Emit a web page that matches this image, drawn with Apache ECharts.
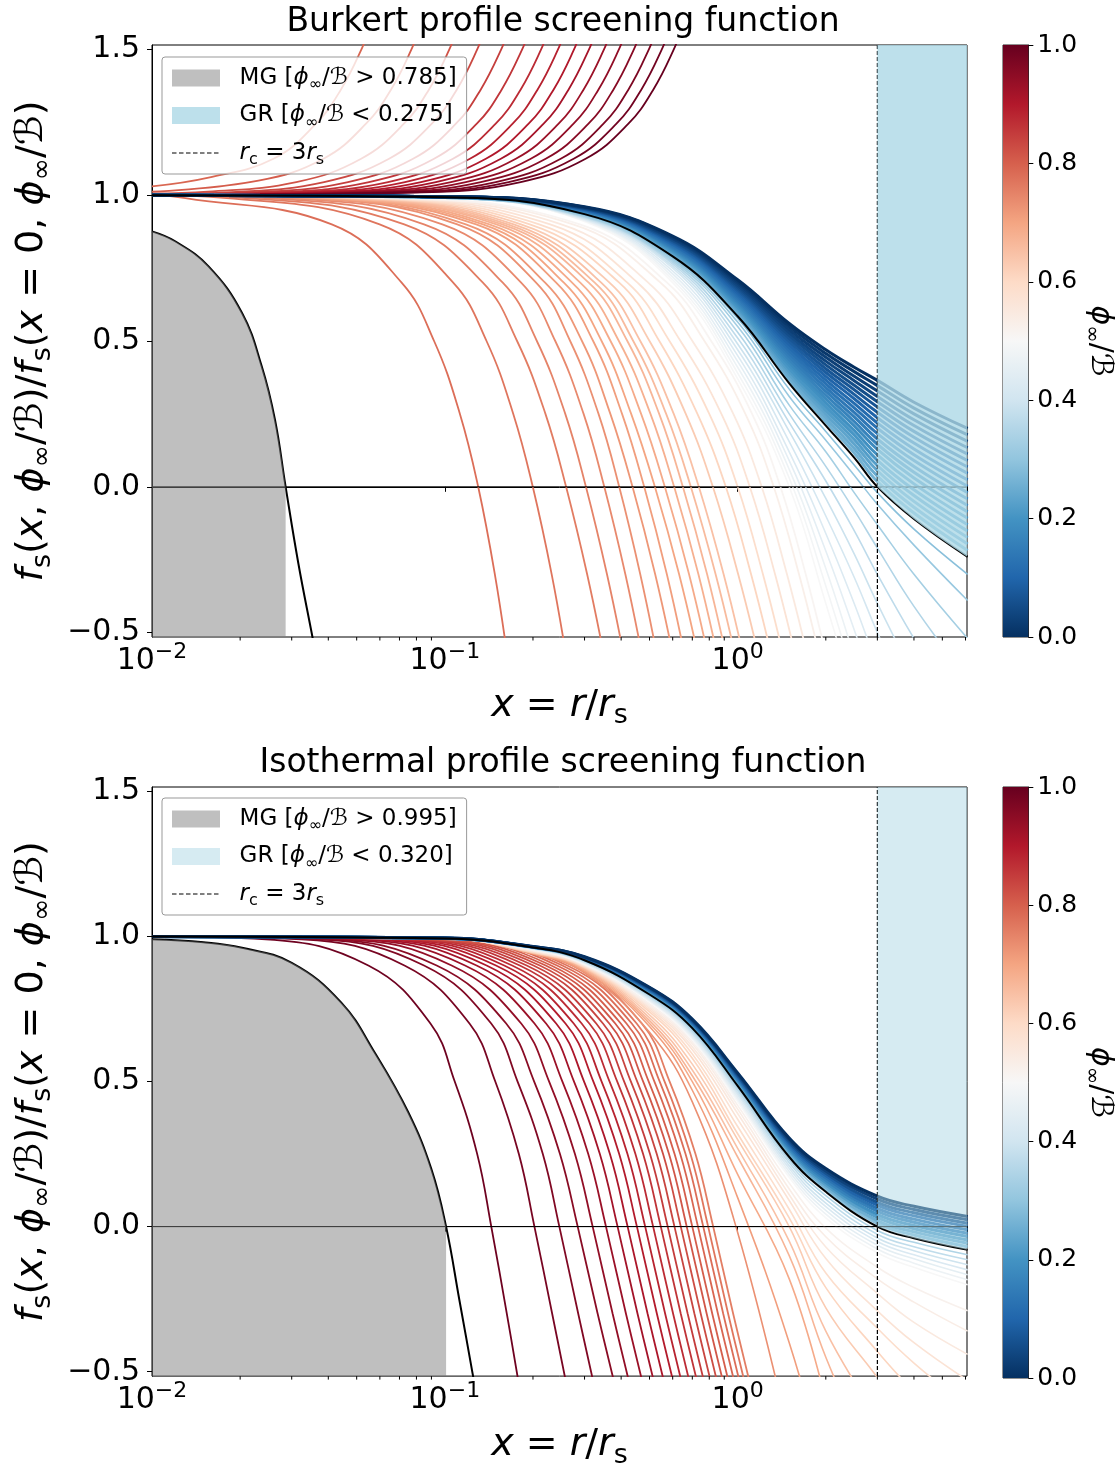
<!DOCTYPE html>
<html><head><meta charset="utf-8">
<script src="https://cdn.jsdelivr.net/npm/echarts@6/dist/echarts.min.js"></script>
<style>html,body{margin:0;padding:0;background:#fff}#c{width:1120px;height:1470px}</style>
</head><body><div id="c"></div>
<script>
// ---------------- shared axis data ----------------
const X_MIN = 0.01, X_MAX = 6.07, Y_MIN = -0.515, Y_MAX = 1.515;
const Y_TICKS = [-0.5, 0, 0.5, 1.0, 1.5];
const X_MAJOR = [0.01, 0.1, 1];
const X_MINOR = [0.02,0.03,0.04,0.05,0.06,0.07,0.08,0.09,0.2,0.3,0.4,0.5,0.6,0.7,0.8,0.9,2,3,4,5,6];
const CB_TICKS = [0, 0.2, 0.4, 0.6, 0.8, 1.0];
const R_C = 3;

// ---------------- Burkert panel ----------------
const B_TITLE = 'Burkert profile screening function';
const B_MG_LIMIT = 0.785, B_GR_LIMIT = 0.275;
const B_MG_CURVE = [[0.01,0.876],[0.012,0.842],[0.0156,0.756],[0.0203,0.596],[0.0237,0.413],[0.0263,0.23],[0.0286,0],[0.0316,-0.262],[0.0353,-0.514],[0.036,-0.56]];
const B_UPPER_PHI = [0.79,0.804,0.818,0.832,0.846,0.86,0.874,0.888,0.902,0.916,0.93,0.944,0.958,0.972,0.986,1.0];
const B_UPPER = [
 [[.01,1.03],[.0156,1.06],[.026,1.125],[.0363,1.245],[.0441,1.361],[.0519,1.5],[.0571,1.605]],
 [[.01,1.012],[.0231,1.05],[.0385,1.125],[.0538,1.245],[.0654,1.361],[.0769,1.5],[.0846,1.605]],
 [[.01,1.006],[.0155,1.012],[.0311,1.045],[.0518,1.125],[.0725,1.245],[.0881,1.361],[.1036,1.5],[.114,1.605]],
 [[.01,1.004],[.0194,1.011],[.0387,1.045],[.0645,1.125],[.0903,1.245],[.1097,1.361],[.129,1.5],[.1419,1.605]],
 [[.01,1.003],[.0234,1.011],[.0467,1.045],[.0779,1.125],[.1091,1.245],[.1324,1.361],[.1558,1.5],[.1714,1.605]],
 [[.01,1.002],[.0276,1.011],[.0551,1.045],[.0919,1.125],[.1286,1.245],[.1561,1.361],[.1837,1.5],[.2021,1.605]],
 [[.01,1.001],[.032,1.011],[.064,1.045],[.1066,1.125],[.1492,1.245],[.1812,1.361],[.2132,1.5],[.2345,1.605]],
 [[.01,1.001],[.0365,1.011],[.0731,1.045],[.1218,1.125],[.1705,1.245],[.207,1.361],[.2435,1.5],[.2679,1.605]],
 [[.01,1.0],[.0414,1.011],[.0829,1.045],[.1381,1.125],[.1933,1.245],[.2348,1.361],[.2762,1.5],[.3038,1.605]],
 [[.01,1.0],[.0466,1.011],[.0932,1.045],[.1554,1.125],[.2175,1.245],[.2641,1.361],[.3107,1.5],[.3418,1.605]],
 [[.01,1.0],[.0524,1.011],[.1049,1.045],[.1748,1.125],[.2447,1.245],[.2972,1.361],[.3496,1.5],[.3846,1.605]],
 [[.01,1.0],[.059,1.011],[.1179,1.045],[.1966,1.125],[.2752,1.245],[.3341,1.361],[.3931,1.5],[.4324,1.605]],
 [[.01,1.0],[.0663,1.011],[.1327,1.045],[.2211,1.125],[.3095,1.245],[.3759,1.361],[.4422,1.5],[.4864,1.605]],
 [[.01,1.0],[.0746,1.011],[.1493,1.045],[.2488,1.125],[.3483,1.245],[.4229,1.361],[.4975,1.5],[.5473,1.605]],
 [[.01,1.0],[.0826,1.011],[.1652,1.045],[.2754,1.125],[.3856,1.245],[.4682,1.361],[.5508,1.5],[.6059,1.605]],
 [[.01,1.0],[.0908,1.011],[.1816,1.045],[.3026,1.125],[.4236,1.245],[.5144,1.361],[.6052,1.5],[.6657,1.605]]
];
// steep (descending) curves: x position at each shared level
const STEEP_LEVELS = [1.0, 0.99, 0.9, 0.7, 0.5, 0.25, 0, -0.3, -0.6];
const B_STEEP_PHI = [0.78,0.77,0.76,0.75,0.74,0.73,0.72,0.71,0.70,0.69,0.68,0.67,0.66,0.65,0.63,0.61,0.59,0.57,0.55,0.53,0.51];
const B_STEEP_X = [
 [.01,.013,.0411,.0712,.0919,.1126,.130,.1482,.1645],
 [.01,.018,.0599,.1068,.1388,.1713,.1997,.2317,.2616],
 [.01,.0208,.0727,.1349,.1765,.2206,.2595,.3062,.3529],
 [.01,.0243,.0849,.1577,.2062,.2578,.3033,.3579,.4125],
 [.01,.028,.0981,.1822,.2383,.2978,.3504,.4135,.4765],
 [.01,.0315,.1103,.2049,.2679,.3349,.394,.4649,.5358],
 [.01,.033,.118,.22,.294,.3675,.4375,.5228,.6081],
 [.01,.035,.128,.24,.321,.4029,.4796,.5731,.6666],
 [.01,.037,.135,.255,.343,.4329,.5216,.6311,.7407],
 [.01,.039,.142,.272,.368,.4681,.564,.6824,.8009],
 [.01,.041,.150,.29,.393,.5038,.607,.7345,.8619],
 [.01,.043,.157,.31,.42,.5395,.650,.7865,.923],
 [.01,.045,.164,.325,.44,.57,.692,.8408,.993],
 [.01,.047,.172,.342,.465,.605,.737,.8955,1.0576],
 [.01,.05,.182,.365,.50,.665,.823,1.0041,1.1934],
 [.01,.053,.195,.394,.54,.7288,.911,1.1114,1.321],
 [.01,.056,.21,.42,.585,.80,1.0,1.22,1.45],
 [.01,.06,.229,.455,.638,.88,1.10,1.342,1.595],
 [.01,.064,.25,.495,.7006,.9664,1.208,1.4738,1.7516],
 [.01,.068,.274,.545,.7702,1.0624,1.328,1.6202,1.9256],
 [.01,.072,.289,.574,.812,1.12,1.40,1.708,2.03]
];
// broad curves: y at shared x grid
const B_GRID_X = [0.01, 0.1, 0.3, 0.6, 1.0, 1.5, 2.0, 2.5, 3.0, 4.0, 6.1];
const B_WIDE_PHI = [0.50,0.49,0.47,0.45,0.43,0.41,0.39,0.37,0.35,0.33,0.31,0.29];
const B_WIDE_Y = [
 [1,.99,.91,.70,.37,0,-.40,-.72],
 [1,.99,.912,.71,.39,.03,-.34,-.66],
 [1,.99,.914,.72,.41,.06,-.28,-.58,-.82],
 [1,.99,.916,.73,.43,.09,-.22,-.49,-.72],
 [1,.99,.918,.74,.45,.12,-.16,-.40,-.61,-.9],
 [1,.99,.92,.75,.47,.155,-.10,-.31,-.50,-.78],
 [1,.99,.922,.757,.49,.19,-.04,-.23,-.40,-.65],
 [1,.99,.924,.764,.51,.22,.02,-.15,-.30,-.52,-.82],
 [1,.99,.926,.77,.53,.25,.07,-.08,-.21,-.41,-.66],
 [1,.99,.928,.776,.55,.28,.12,-.02,-.13,-.30,-.52],
 [1,.99,.931,.782,.565,.31,.16,.04,-.06,-.20,-.39],
 [1,.99,.933,.787,.578,.335,.19,.075,-.02,-.145,-.30]
];
const B_BLACK_Y = [1,.993,.935,.79,.585,.355,.21,.10,0,-.11,-.24];
const B_BAND_PHI = [.261,.248,.234,.220,.206,.193,.179,.165,.151,.138,.124,.110,.096,.083,.069,.055,.041,.028,.014,0];
const B_BAND_Y = [
 [1,.993,.936,.794,.591,.365,.223,.116,.018,-.09,-.218],
 [1,.993,.9375,.797,.5975,.3755,.236,.131,.0365,-.07,-.196],
 [1,.993,.939,.801,.604,.386,.249,.147,.055,-.05,-.174],
 [1,.994,.94,.804,.61,.396,.262,.162,.073,-.03,-.152],
 [1,.994,.941,.808,.616,.406,.275,.178,.091,-.01,-.13],
 [1,.994,.9425,.811,.6225,.4165,.288,.193,.1095,.01,-.108],
 [1,.994,.944,.815,.629,.427,.301,.209,.128,.03,-.086],
 [1,.994,.945,.818,.635,.437,.314,.224,.146,.05,-.064],
 [1,.994,.946,.822,.641,.447,.327,.240,.164,.07,-.042],
 [1,.9945,.9475,.825,.6475,.4575,.34,.255,.1825,.09,-.02],
 [1,.9945,.949,.829,.654,.468,.353,.271,.201,.11,.002],
 [1,.9945,.95,.832,.66,.478,.366,.286,.219,.13,.024],
 [1,.9945,.951,.836,.666,.488,.379,.302,.237,.15,.046],
 [1,.995,.9525,.839,.6725,.4985,.392,.317,.2555,.17,.068],
 [1,.995,.954,.843,.679,.509,.405,.333,.274,.19,.09],
 [1,.995,.955,.846,.685,.519,.418,.348,.292,.21,.112],
 [1,.995,.956,.850,.691,.529,.431,.364,.310,.23,.134],
 [1,.995,.9575,.853,.6975,.5395,.444,.379,.3285,.25,.156],
 [1,.995,.959,.857,.704,.550,.457,.395,.347,.27,.178],
 [1,.995,.96,.86,.71,.56,.47,.41,.365,.29,.20]
];

// ---------------- Isothermal panel ----------------
const I_TITLE = 'Isothermal profile screening function';
const I_MG_LIMIT = 0.995, I_GR_LIMIT = 0.320;
const I_MG_CURVE = [[0.01,0.99],[0.015,0.98],[0.0203,0.961],[0.03,0.909],[0.0443,0.772],[0.0576,0.6],[0.075,0.394],[0.0899,0.199],[0.101,0],[0.112,-0.25],[0.1246,-0.51],[0.127,-0.56]];
const I_STEEP_PHI = [.99,.978,.967,.955,.943,.932,.92,.908,.896,.885,.873,.861,.85,.838,.826,.814,.803,.791,.779,.768,.756];
const I_STEEP_X = [
 [.01,.0245,.0548,.0893,.1081,.129,.1441,.1628,.183],
 [.01,.0324,.0728,.1214,.1487,.179,.2023,.2326,.267],
 [.01,.0369,.0849,.144,.1772,.2161,.2461,.2855,.3322],
 [.01,.0398,.0938,.162,.2019,.2473,.2843,.3326,.3923],
 [.01,.0448,.1055,.1823,.2271,.2782,.3198,.3742,.4413],
 [.01,.0497,.1172,.2024,.2521,.3089,.3551,.4155,.49],
 [.01,.0545,.1284,.2217,.2762,.3384,.389,.4551,.5368],
 [.01,.0589,.1389,.24,.2989,.3663,.421,.4926,.581],
 [.01,.0634,.1495,.2582,.3216,.394,.4529,.5299,.625],
 [.01,.0677,.1595,.2755,.3431,.4205,.4833,.5655,.667],
 [.01,.072,.1698,.2933,.3653,.4476,.5145,.602,.71],
 [.01,.0765,.1803,.3115,.388,.4755,.5465,.6394,.7542],
 [.01,.0808,.1904,.3289,.4097,.502,.577,.6751,.7963],
 [.01,.0852,.2008,.3468,.432,.5294,.6085,.7119,.8397],
 [.01,.0895,.211,.3645,.454,.5563,.6394,.7481,.8824],
 [.01,.0938,.2211,.3819,.4757,.5829,.670,.7839,.9246],
 [.01,.098,.231,.399,.497,.609,.70,.819,.966],
 [.01,.1025,.2416,.4172,.5197,.6368,.732,.8564,1.0102],
 [.01,.1068,.2518,.4349,.5417,.6638,.763,.8927,1.0529],
 [.01,.111,.2617,.452,.563,.6899,.793,.9278,1.0943],
 [.01,.1155,.2723,.4703,.5858,.7178,.825,.9653,1.1385]
];
const I_GRID_X = [0.01, 0.1, 0.2, 0.3, 0.5, 0.7, 1.0, 1.5, 2.0, 3.0, 4.0, 6.1];
const I_WIDE_PHI = [.73,.71,.69,.67,.65,.63,.61,.59,.57,.55,.535,.52,.50,.474,.449,.423,.397,.371,.346];
const I_WIDE_Y = [
 [1,.993,.94,.875,.67,.43,-.02,-.72],
 [1,.993,.941,.88,.69,.47,.10,-.40,-.85],
 [1,.993,.942,.885,.70,.50,.18,-.18,-.6],
 [1,.993,.943,.888,.71,.52,.24,-.10,-.45,-.85],
 [1,.993,.944,.891,.72,.54,.27,-.05,-.36,-.66],
 [1,.993,.945,.893,.73,.56,.30,0,-.28,-.52,-.7],
 [1,.993,.946,.895,.74,.58,.32,.03,-.21,-.43,-.57],
 [1,.993,.947,.897,.747,.595,.345,.06,-.16,-.35,-.47,-.62],
 [1,.993,.949,.899,.753,.61,.37,.09,-.11,-.29,-.40,-.53],
 [1,.993,.951,.901,.758,.62,.39,.11,-.07,-.23,-.33,-.44],
 [1,.993,.952,.902,.763,.63,.405,.13,-.035,-.18,-.26,-.36],
 [1,.993,.953,.903,.768,.637,.418,.15,-.005,-.14,-.21,-.29],
 [1,.993,.955,.905,.775,.645,.43,.17,.03,-.09,-.14,-.20],
 [1,.993,.956,.907,.779,.651,.438,.18,.043,-.077,-.126,-.183],
 [1,.993,.957,.909,.782,.656,.446,.19,.056,-.064,-.111,-.166],
 [1,.993,.958,.911,.786,.662,.454,.20,.069,-.051,-.097,-.149],
 [1,.993,.959,.912,.789,.667,.461,.21,.081,-.039,-.083,-.131],
 [1,.993,.96,.914,.793,.673,.469,.22,.094,-.026,-.069,-.114],
 [1,.993,.961,.916,.796,.678,.477,.23,.107,-.013,-.054,-.097]
];
const I_BLACK_Y = [1,.993,.962,.918,.80,.684,.485,.24,.12,0,-.04,-.08];
const I_BAND_PHI = [.288,.256,.224,.192,.16,.128,.096,.064,.032,0];
const I_BAND_Y = [
 [1,.993,.962,.919,.803,.687,.49,.247,.128,.011,-.029,-.069],
 [1,.993,.963,.92,.805,.69,.494,.253,.136,.021,-.018,-.057],
 [1,.994,.963,.922,.808,.693,.499,.26,.144,.032,-.007,-.046],
 [1,.994,.963,.923,.81,.696,.503,.266,.152,.042,.004,-.034],
 [1,.994,.964,.924,.813,.70,.508,.273,.16,.053,.015,-.023],
 [1,.994,.964,.925,.815,.703,.512,.279,.168,.063,.026,-.011],
 [1,.994,.964,.926,.818,.706,.517,.286,.176,.074,.037,.001],
 [1,.995,.964,.928,.82,.709,.521,.292,.184,.084,.048,.012],
 [1,.995,.965,.929,.823,.712,.526,.299,.192,.095,.059,.024],
 [1,.995,.965,.93,.825,.715,.53,.305,.20,.105,.07,.035]
];

// ---------------- styling helpers ----------------
const RDBU_R = ['#053061','#2166ac','#4393c3','#92c5de','#d1e5f0','#f7f7f7','#fddbc7','#f4a582','#d6604d','#b2182b','#67001f'];
function hexRgb(h){return [parseInt(h.slice(1,3),16),parseInt(h.slice(3,5),16),parseInt(h.slice(5,7),16)];}
function cmap(t){
  t = Math.max(0, Math.min(1, t));
  const p = t*10, i = Math.min(9, Math.floor(p)), f = p - i;
  const a = hexRgb(RDBU_R[i]), b = hexRgb(RDBU_R[i+1]);
  return 'rgb(' + a.map((v,k)=>Math.round(v+(b[k]-v)*f)).join(',') + ')';
}
const FONT = 'DejaVu Sans';
const MATH_RICH = (fs) => ({
  i: {fontStyle:'italic', fontSize: fs, lineHeight: Math.round(fs*1.25), fontFamily: FONT, color:'#000'},
  s: {fontSize: Math.round(fs*0.7), lineHeight: Math.round(fs*0.85), verticalAlign:'bottom', fontFamily: FONT, color:'#000'}
});
const SMOOTH = 0.42;
function curve(data, color, width, g, z){
  return {type:'line', data, xAxisIndex:g, yAxisIndex:g, symbol:'none', showSymbol:false,
    smooth:SMOOTH, clip:true, silent:true, animation:false, z: z||2,
    lineStyle:{color, width}, itemStyle:{color}};
}
const zipLevels = (xs) => xs.map((x,j)=>[x, STEEP_LEVELS[j]]);
const zipGrid = (gx, ys) => ys.map((y,j)=>[gx[j], y]);

function panelSeries(g, P){
  const s = [];
  (P.upper||[]).forEach((d,i)=>s.push(curve(d, cmap(P.upperPhi[i]), 1.8, g)));
  P.steepX.forEach((xs,i)=>s.push(curve(zipLevels(xs), cmap(P.steepPhi[i]), 1.8, g)));
  P.wideY.forEach((ys,i)=>s.push(curve(zipGrid(P.gridX, ys), cmap(P.widePhi[i]), 1.6, g)));
  P.bandY.forEach((ys,i)=>s.push(curve(zipGrid(P.gridX, ys), cmap(P.bandPhi[i]), 3, g)));
  const black = zipGrid(P.gridX, P.blackY);
  s.push(curve(black, '#000', 2, g, 3));
  s.push(curve(P.mg, '#000', 2, g, 3));
  // y = 0 line
  s.push({type:'line', data:[[X_MIN,0],[6.1,0]], xAxisIndex:g, yAxisIndex:g, symbol:'none', silent:true, animation:false, z:4, lineStyle:{color:'#000', width:1}});
  // r_c line
  s.push({type:'line', name:'RC'+(g+1), data:[[R_C,Y_MIN],[R_C,Y_MAX]], xAxisIndex:g, yAxisIndex:g, symbol:'none', showSymbol:false, silent:true, animation:false, z:4,
    color:'#000', lineStyle:{color:'#000', width:1.2, type:[4,2]}});
  // MG shaded region
  s.push({type:'line', name:'MG'+(g+1), data:P.mg.filter(p=>p[1]>=0), xAxisIndex:g, yAxisIndex:g, symbol:'none', smooth:SMOOTH,
    silent:true, animation:false, z:5, color:'rgba(128,128,128,0.5)', lineStyle:{width:0},
    areaStyle:{color:'rgba(128,128,128,0.5)', opacity:1, origin:'start'}});
  // GR shaded region
  s.push({type:'line', name:'GR'+(g+1), data:black.filter(p=>p[0]>=R_C), xAxisIndex:g, yAxisIndex:g, symbol:'none', smooth:SMOOTH,
    silent:true, animation:false, z:5, color:P.grColor, lineStyle:{width:0},
    areaStyle:{color:P.grColor, opacity:1, origin:'end'}});
  // minor ticks
  s.push({type:'custom', xAxisIndex:g, yAxisIndex:g, silent:true, animation:false, z:6,
    data:X_MINOR.map(x=>[x, Y_MIN]),
    renderItem:(params, api)=>{ const p = api.coord([api.value(0), api.value(1)]);
      return {type:'line', shape:{x1:p[0], y1:p[1], x2:p[0], y2:p[1]+3.5}, style:{stroke:'#000', lineWidth:1}}; }});
  return s;
}

const TOP = {upper:B_UPPER, upperPhi:B_UPPER_PHI, steepX:B_STEEP_X, steepPhi:B_STEEP_PHI, gridX:B_GRID_X,
  wideY:B_WIDE_Y, widePhi:B_WIDE_PHI, bandY:B_BAND_Y, bandPhi:B_BAND_PHI, blackY:B_BLACK_Y, mg:B_MG_CURVE, grColor:'rgba(173,216,230,0.8)'};
const BOT = {steepX:I_STEEP_X, steepPhi:I_STEEP_PHI, gridX:I_GRID_X,
  wideY:I_WIDE_Y, widePhi:I_WIDE_PHI, bandY:I_BAND_Y, bandPhi:I_BAND_PHI, blackY:I_BLACK_Y, mg:I_MG_CURVE, grColor:'rgba(173,216,230,0.5)'};

function fmtPow(v){
  const l = Math.log10(v), e = Math.round(l);
  if (Math.abs(l-e) > 1e-6 || !X_MAJOR.some(m=>Math.abs(Math.log10(m)-e)<1e-6)) return '';
  return '{b|10}{p|' + (e<0?'\u2212':'') + Math.abs(e) + '}';
}
const fmtY = v => (v<0?'\u2212':'') + Math.abs(v).toFixed(1);

const GRIDS = [
  {left:150, top:45, width:817, height:592},
  {left:150, top:787, width:817, height:591}
];
const xAxes = [], yAxes = [], grids = [];
GRIDS.forEach((G,g)=>{
  grids.push(Object.assign({show:true, borderColor:'#000', borderWidth:1, backgroundColor:'transparent'}, G));
  xAxes.push({type:'log', logBase:10, gridIndex:g, min:X_MIN, max:X_MAX,
    axisLine:{show:true, lineStyle:{color:'#000', width:1}},
    axisTick:{show:true, length:5, inside:false, lineStyle:{color:'#000', width:1}},
    splitLine:{show:false}, minorTick:{show:false}, minorSplitLine:{show:false},
    axisLabel:{margin:4, formatter:fmtPow, color:'#000', fontFamily:FONT, fontSize:30, lineHeight:40,
      rich:{b:{fontSize:30, lineHeight:40, fontFamily:FONT, color:'#000'}, p:{fontSize:22, lineHeight:22, verticalAlign:'top', fontFamily:FONT, color:'#000'}}},
    name:'{i|x} = {i|r}/{i|r}{s|s}', nameLocation:'middle', nameGap:44,
    nameTextStyle:{fontFamily:FONT, fontSize:38, lineHeight:48, color:'#000', rich:MATH_RICH(38)}});
  yAxes.push({type:'value', gridIndex:g, min:Y_MIN, max:Y_MAX,
    axisLine:{show:true, lineStyle:{color:'#000', width:1}},
    axisTick:{show:true, length:5, customValues:Y_TICKS, lineStyle:{color:'#000', width:1}},
    axisLabel:{customValues:Y_TICKS, formatter:fmtY, color:'#000', fontFamily:FONT, fontSize:30, margin:12},
    splitLine:{show:false},
    name:'{i|f}{s|s}({i|x}, {i|\u03d5}{s|\u221e}/\u212c)/{i|f}{s|s}({i|x} = 0, {i|\u03d5}{s|\u221e}/\u212c)',
    nameLocation:'middle', nameRotate:90, nameGap:96,
    nameTextStyle:{fontFamily:FONT, fontSize:38, lineHeight:48, color:'#000', rich:MATH_RICH(38)}});
});
// colorbars
const cbStops = RDBU_R.map((c,i)=>({offset:i/10, color:c}));
[45, 787].forEach((top,k)=>{
  const g = 2+k;
  grids.push({left:1003, top, width:30, height: k===0?592:591, show:true, borderColor:'#222', borderWidth:1});
  xAxes.push({type:'category', gridIndex:g, data:['cb'], show:false, boundaryGap:true});
  yAxes.push({type:'value', gridIndex:g, min:0, max:1, interval:0.2, position:'right',
    axisLine:{show:true, lineStyle:{color:'#222', width:1}},
    axisTick:{show:true, length:5, lineStyle:{color:'#000'}},
    axisLabel:{formatter:v=>v.toFixed(1), color:'#000', fontFamily:FONT, fontSize:25, margin:9},
    splitLine:{show:false},
    name:'{i|\u03d5}{s|\u221e}/\u212c', nameLocation:'middle', nameRotate:-90, nameGap:42,
    nameTextStyle:{fontFamily:FONT, fontSize:30, lineHeight:38, color:'#000', rich:MATH_RICH(30)}});
});

const series = [].concat(panelSeries(0, TOP), panelSeries(1, BOT));
[2,3].forEach(g=>series.push({type:'bar', xAxisIndex:g, yAxisIndex:g, data:[1], barWidth:'100%', silent:true, animation:false,
  itemStyle:{color:new echarts.graphic.LinearGradient(0,1,0,0,cbStops)}}));

// dashed-line legend glyph (48 x 17 box, 7 dashes)
let DASH_ICON = 'path://M0,0h0.02v0.02h-0.02zM47.98,16.98h0.02v0.02h-0.02z';
for (let i = 0; i < 7; i++) DASH_ICON += 'M' + (i*7) + ',7.9h4.5v1.2h-4.5z';

const LEG_TEXT = {
  MG1:'  MG [{i|\u03d5}{s|\u221e}/\u212c > ' + B_MG_LIMIT.toFixed(3) + ']',
  GR1:'  GR [{i|\u03d5}{s|\u221e}/\u212c < ' + B_GR_LIMIT.toFixed(3) + ']',
  RC1:'  {i|r}{s|c} = 3{i|r}{s|s}',
  MG2:'  MG [{i|\u03d5}{s|\u221e}/\u212c > ' + I_MG_LIMIT.toFixed(3) + ']',
  GR2:'  GR [{i|\u03d5}{s|\u221e}/\u212c < ' + I_GR_LIMIT.toFixed(3) + ']',
  RC2:'  {i|r}{s|c} = 3{i|r}{s|s}'
};
function legendCfg(k, top, grColor){
  return {data:[
      {name:'MG'+k, icon:'rect', itemStyle:{color:'rgba(128,128,128,0.5)', borderWidth:0}},
      {name:'GR'+k, icon:'rect', itemStyle:{color:grColor, borderWidth:0}},
      {name:'RC'+k, icon:DASH_ICON, itemStyle:{color:'#000', borderWidth:0}}],
    left:162, top, orient:'vertical', itemWidth:48, itemHeight:17, itemGap:7.5, padding:[6,10,6,10],
    backgroundColor:'rgba(255,255,255,0.8)', borderColor:'#999', borderWidth:1, borderRadius:3,
    selectedMode:false, z:10, formatter:n=>LEG_TEXT[n],
    textStyle:{fontFamily:FONT, fontSize:23, lineHeight:30, color:'#000', rich:MATH_RICH(23)}};
}

const chart = echarts.init(document.getElementById('c'), null, {renderer:'canvas'});
chart.setOption({
  animation:false, backgroundColor:'#fff', textStyle:{fontFamily:FONT},
  title:[
    {text:B_TITLE, left:558, top:1, textAlign:'center', textStyle:{fontFamily:FONT, fontSize:33, fontWeight:'normal', color:'#000'}},
    {text:I_TITLE, left:558, top:742, textAlign:'center', textStyle:{fontFamily:FONT, fontSize:33, fontWeight:'normal', color:'#000'}}
  ],
  legend:[legendCfg(1, 57, TOP.grColor), legendCfg(2, 798, BOT.grColor)],
  grid:grids, xAxis:xAxes, yAxis:yAxes, series
});
</script></body></html>
